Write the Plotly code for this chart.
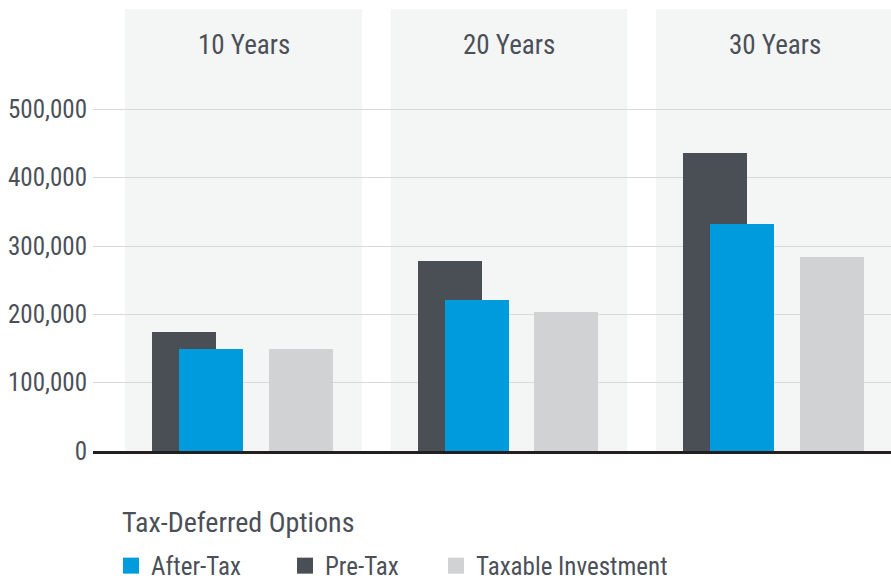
import plotly.graph_objects as go

categories = ["10 Years", "20 Years", "30 Years"]
pre_tax = [174000, 278000, 436000]
after_tax = [150000, 221000, 332000]
taxable = [150000, 204000, 284000]
tick_vals = [0, 100000, 200000, 300000, 400000, 500000]
tick_text = ["0", "100,000", "200,000", "300,000", "400,000", "500,000"]
legend_title = "Tax-Deferred Options"

BLUE = "#009bdd"
DARK = "#4a4e55"
LIGHT = "#d1d2d4"
PANEL = "#f4f5f5"
TEXT = "#4b5058"
FONT = "Roboto Condensed, Roboto, sans-serif"

xs = list(range(len(categories)))
bar_w = 0.241

fig = go.Figure()
fig.add_trace(go.Bar(x=xs, y=pre_tax, name="Pre-Tax", marker=dict(color=DARK, line_width=0),
                     width=bar_w, offset=-0.3446, showlegend=False))
fig.add_trace(go.Bar(x=xs, y=after_tax, name="After-Tax", marker=dict(color=BLUE, line_width=0),
                     width=bar_w, offset=-0.2429, showlegend=False))
fig.add_trace(go.Bar(x=xs, y=taxable, name="Taxable Investment", marker=dict(color=LIGHT, line_width=0),
                     width=bar_w, offset=0.096, showlegend=False))

# legend proxies
for nm, col, lw in [("After-Tax", BLUE, 129), ("Pre-Tax", DARK, 106), ("Taxable Investment", LIGHT, None)]:
    kw = dict(legendwidth=lw) if lw else {}
    fig.add_trace(go.Scatter(x=[None], y=[None], mode="markers", name=nm,
                             marker=dict(symbol="square", size=16, color=col), **kw))

shapes = []
annotations = []
for i, c in enumerate(categories):
    shapes.append(dict(type="rect", xref="x", yref="paper", x0=i - 0.446, x1=i + 0.446,
                       y0=0, y1=1, fillcolor=PANEL, line_width=0, layer="below"))
    annotations.append(dict(x=i, xref="x", y=0.918, yref="paper", text=c, showarrow=False,
                            font=dict(size=27, color=TEXT, family=FONT),
                            xanchor="center", yanchor="middle"))
annotations.append(dict(x=0.034, xref="paper", y=-0.161, yref="paper", text=legend_title,
                        showarrow=False, xanchor="left", yanchor="middle",
                        font=dict(size=28, color=TEXT, family=FONT)))

fig.update_layout(
    width=891, height=581,
    margin=dict(l=93, r=0, t=9, b=130),
    paper_bgcolor="white", plot_bgcolor="white",
    barmode="overlay",
    shapes=shapes, annotations=annotations,
    font=dict(family=FONT, color=TEXT, size=24),
    xaxis=dict(range=[-0.5669, 2.4388], showticklabels=False, showgrid=False, zeroline=False,
               showline=True, linecolor="#231f20", linewidth=3, ticks="", fixedrange=True),
    yaxis=dict(range=[0, 647000], tickvals=tick_vals, ticktext=tick_text,
               showgrid=True, gridcolor="#d9d9d9", gridwidth=1, zeroline=False,
               showline=False, ticks="", ticklabelstandoff=5, automargin=False,
               tickfont=dict(size=25, color=TEXT, family=FONT)),
    legend=dict(orientation="h", xref="container", yref="container",
                x=0.1246, y=0.026, xanchor="left", yanchor="middle",
                font=dict(size=25, color=TEXT, family=FONT),
                bgcolor="rgba(0,0,0,0)"),
    bargap=0,
)

fig.write_html("out.html", config={"displayModeBar": False},
               post_script="document.body.style.margin='0';document.body.style.overflow='hidden';")
